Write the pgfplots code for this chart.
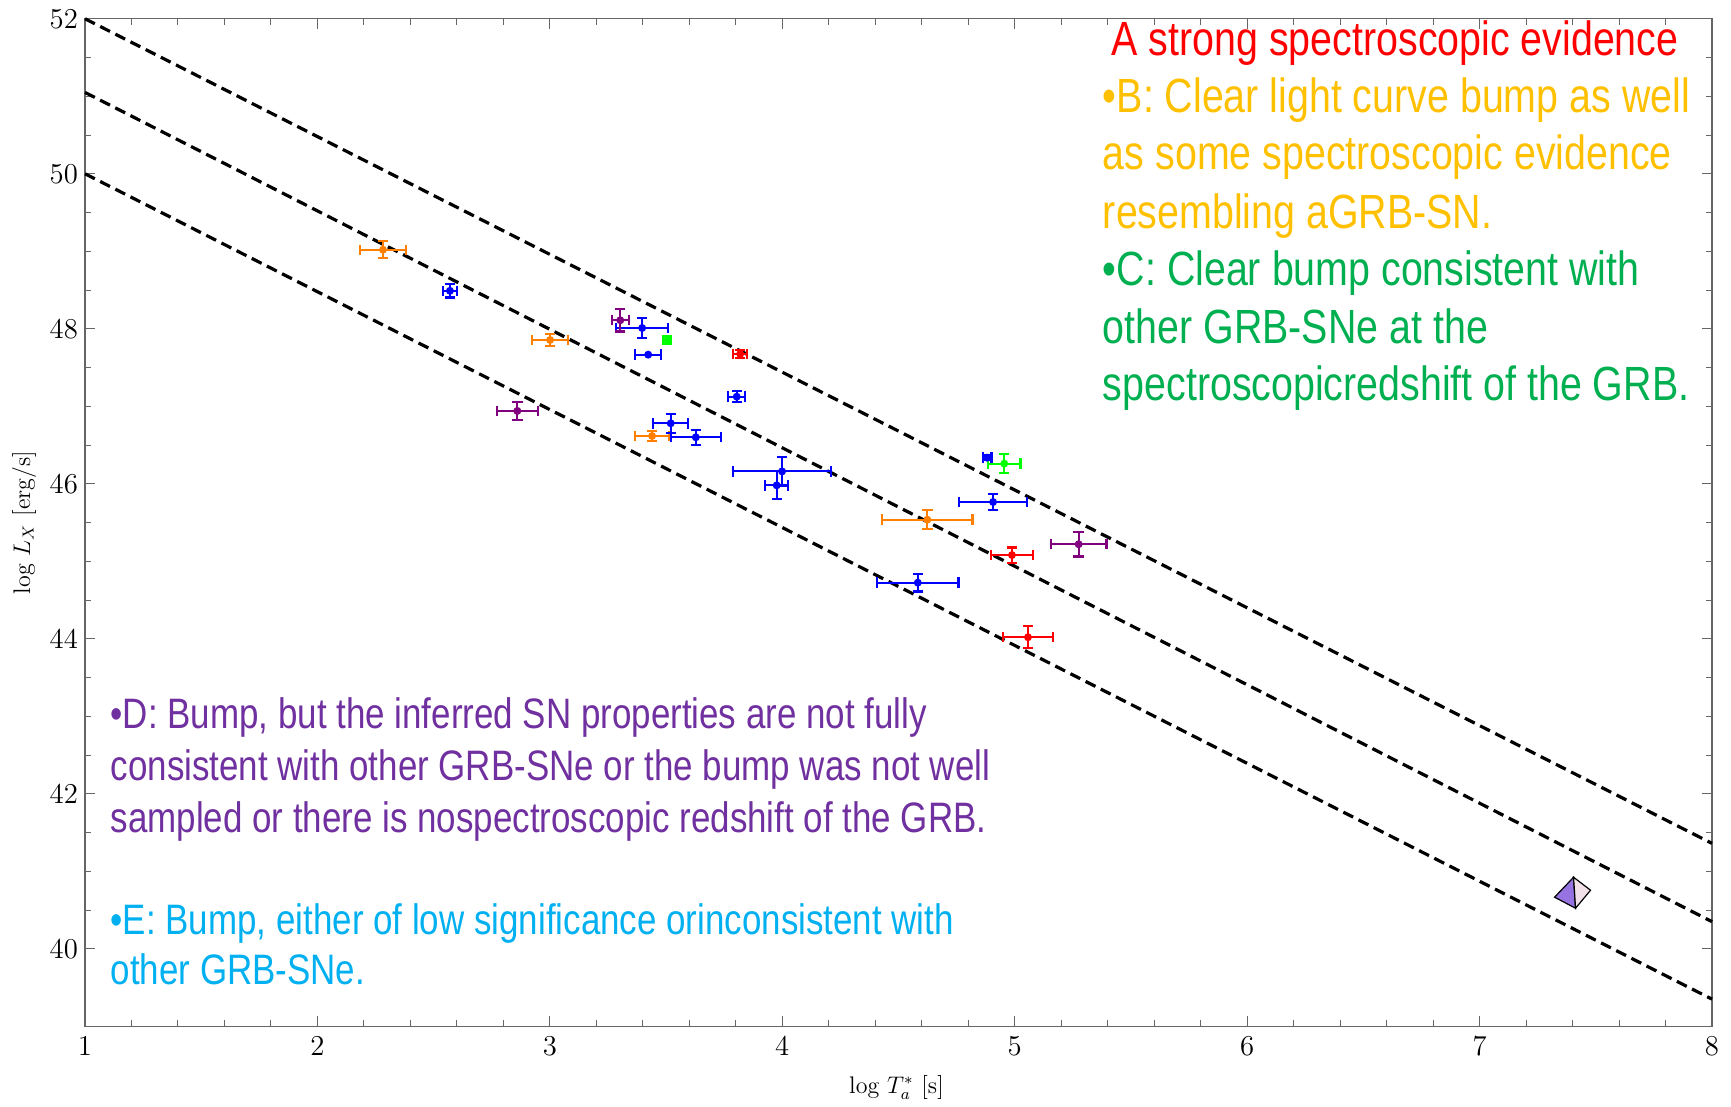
\documentclass[border=0pt]{standalone}
\usepackage{pgfplots}
\pgfplotsset{compat=1.18}
\usepackage{fontspec}
\newfontfamily\annfont[FakeStretch=0.82]{Liberation Sans}
\definecolor{cOrange}{RGB}{255,128,0}
\definecolor{cBlue}{RGB}{0,0,255}
\definecolor{cPurple}{RGB}{128,0,128}
\definecolor{cGreen}{RGB}{0,255,0}
\definecolor{cRed}{RGB}{255,0,0}
\definecolor{tRed}{RGB}{255,0,0}
\definecolor{tGold}{RGB}{255,192,0}
\definecolor{tGreen}{RGB}{0,176,80}
\definecolor{tPurple}{RGB}{112,48,160}
\definecolor{tCyan}{RGB}{0,176,240}
\definecolor{pyrL}{RGB}{150,115,225}
\definecolor{pyrR}{RGB}{242,225,232}
\pgfdeclareplotmark{pyramid}{%
  \pgfsetlinewidth{0.6pt}%
  \pgfsetstrokecolor{black}%
  \pgfsetfillcolor{pyrL}%
  \pgfpathmoveto{\pgfpoint{0.5pt}{7.5pt}}\pgfpathlineto{\pgfpoint{-9pt}{-2.5pt}}\pgfpathlineto{\pgfpoint{1.5pt}{-8pt}}\pgfpathclose\pgfusepath{fill,stroke}%
  \pgfsetfillcolor{pyrR}%
  \pgfpathmoveto{\pgfpoint{0.5pt}{7.5pt}}\pgfpathlineto{\pgfpoint{1.5pt}{-8pt}}\pgfpathlineto{\pgfpoint{9pt}{1pt}}\pgfpathclose\pgfusepath{fill,stroke}%
}
\pgfplotsset{
  errpts/.style={only marks, mark=*, mark size=1.4pt, line width=1.1pt,
    error bars/.cd, x dir=both, x explicit, y dir=both, y explicit,
    error bar style={line width=1.1pt}, error mark options={rotate=90, mark size=2.6pt, line width=1.1pt},
    /pgfplots/.cd},
  fitline/.style={black, line width=1.6pt, dash pattern=on 5.5pt off 3pt},
}
\tikzset{
  ann/.style={anchor=base west, inner sep=0pt, font=\fontsize{24}{28}\annfont},
  annS/.style={anchor=base west, inner sep=0pt, font=\fontsize{21.3}{25}\annfont},
}
\begin{document}
\begin{tikzpicture}
\begin{axis}[name=ax, scale only axis, width=813.5pt, height=503.75pt,
  xmin=1, xmax=8, ymin=39, ymax=52,
  xtick={1,2,...,8}, ytick={40,42,...,52},
  minor x tick num=4, minor y tick num=3,
  tick align=inside, major tick length=5pt, minor tick length=3pt,
  axis line style={black!60, line width=0.7pt},
  tick style={black!60, line width=0.5pt},
  ticklabel style={font=\fontsize{14}{16}\selectfont},
  xticklabel style={yshift=-2pt},
  clip=false]
\addplot[fitline] coordinates {(1,52) (8,41.36)};
\addplot[fitline] coordinates {(1,51.05) (8,40.35)};
\addplot[fitline] coordinates {(1,50) (8,39.35)};
% orange
\addplot[color=cOrange, errpts] table[x=x, y=y, x error=ex, y error=ey] {
x y ex ey
2.282 49.02 0.099 0.11
3.001 47.856 0.078 0.073
3.440 46.617 0.074 0.065
4.624 45.537 0.194 0.12
};
% blue
\addplot[color=cBlue, errpts] table[x=x, y=y, x error=ex, y error=ey] {
x y ex ey
2.570 48.49 0.029 0.086
3.397 48.01 0.111 0.129
3.423 47.666 0.056 0.0
3.804 47.124 0.037 0.073
3.520 46.78 0.075 0.12
3.628 46.60 0.1075 0.099
3.999 46.16 0.212 0.19
3.976 45.98 0.05 0.18
4.881 46.337 0.019 0.03
4.907 45.765 0.147 0.108
4.583 44.724 0.175 0.114
};
% purple
\addplot[color=cPurple, errpts] table[x=x, y=y, x error=ex, y error=ey] {
x y ex ey
3.303 48.11 0.037 0.146
2.860 46.94 0.089 0.118
5.275 45.22 0.12 0.159
};
% green
\addplot[color=cGreen, errpts] table[x=x, y=y, x error=ex, y error=ey] {
x y ex ey
3.505 47.856 0.017 0.05
4.955 46.26 0.07 0.125
};
% red
\addplot[color=cRed, errpts] table[x=x, y=y, x error=ex, y error=ey] {
x y ex ey
3.819 47.675 0.03 0.056
4.988 45.08 0.089 0.097
5.057 44.02 0.106 0.142
};
% pyramid
\addplot[only marks, mark=pyramid] coordinates {(7.40,40.73)};
% annotations
\node[ann, text=tRed] at (axis cs:5.416,51.53) {A strong spectroscopic evidence};
\node[ann, text=tGold] at (axis cs:5.378,50.79) {•B: Clear light curve bump as well};
\node[ann, text=tGold] at (axis cs:5.378,50.05) {as some spectroscopic evidence};
\node[ann, text=tGold] at (axis cs:5.378,49.30) {resembling aGRB-SN.};
\node[ann, text=tGreen] at (axis cs:5.378,48.56) {•C: Clear bump consistent with};
\node[ann, text=tGreen] at (axis cs:5.378,47.81) {other GRB-SNe at the};
\node[ann, text=tGreen] at (axis cs:5.378,47.07) {spectroscopicredshift of the GRB.};
\node[annS, text=tPurple] at (axis cs:1.109,42.84) {•D: Bump, but the inferred SN properties are not fully};
\node[annS, text=tPurple] at (axis cs:1.109,42.17) {consistent with other GRB-SNe or the bump was not well};
\node[annS, text=tPurple] at (axis cs:1.109,41.50) {sampled or there is nospectroscopic redshift of the GRB.};
\node[annS, text=tCyan] at (axis cs:1.109,40.19) {•E: Bump, either of low significance orinconsistent with};
\node[annS, text=tCyan] at (axis cs:1.109,39.54) {other GRB-SNe.};
\end{axis}
\node[rotate=90, font=\fontsize{12}{14}\selectfont] at ([xshift=-30.5pt]ax.west) {log $L_X$ [erg/s]};
\node[font=\fontsize{12}{14}\selectfont] at ([yshift=-30.6pt,xshift=-1pt]ax.south) {log $T^{*}_{a}$ [s]};
\pgfresetboundingbox
\path ([shift={(-42.5pt,-40pt)}]ax.south west) rectangle ([shift={(9.5pt,9.4pt)}]ax.north east);
\end{tikzpicture}
\end{document}
